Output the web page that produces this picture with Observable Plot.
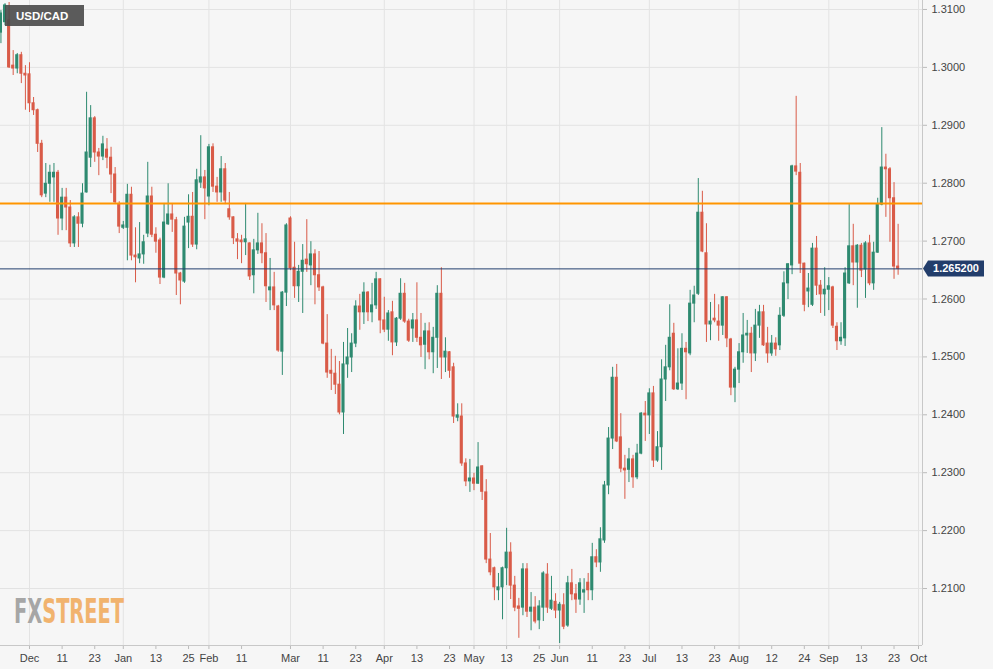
<!DOCTYPE html>
<html><head><meta charset="utf-8">
<script src="https://cdn.jsdelivr.net/npm/d3@7"></script>
<script src="https://cdn.jsdelivr.net/npm/@observablehq/plot@0.6"></script>
<style>
body{margin:0;background:#ffffff;}
#wrap{position:relative;width:993px;height:669px;}
</style></head><body><div id="wrap"></div>
<script>
// ---- data (USD/CAD daily candles, 20 Nov 2020 – 24 Sep 2021) ----
const firstDay = "2020-11-20";
const open = [
1.3060,1.3078,1.3081,1.3003,1.2998,1.3021,1.2989,
1.2988,1.2938,1.2926,1.2868,1.2782,1.2799,1.2810,1.2818,1.2739,1.2775,1.2758,1.2696,1.2741,1.2730,1.2784,1.2844,1.2912,1.2853,1.2846,1.2858,1.2844,1.2815,1.2763,
1.2723,1.2723,1.2780,1.2675,1.2670,1.2677,1.2713,1.2777,1.2711,1.2701,1.2637,1.2729,1.2746,1.2736,1.2644,1.2630,1.2732,1.2742,1.2694,1.2801,1.2810,
1.2777,1.2862,1.2794,1.2784,1.2824,1.2755,1.2741,1.2703,1.2701,1.2698,1.2696,1.2641,1.2684,1.2696,1.2679,1.2615,1.2620,1.2587,1.2509,1.2611,
1.2739,1.2654,1.2622,1.2647,1.2668,1.2658,1.2677,1.2641,1.2620,1.2523,1.2476,1.2471,1.2452,1.2404,1.2487,1.2499,1.2523,1.2587,1.2577,1.2611,1.2577,1.2589,1.2634,
1.2563,1.2547,1.2577,1.2525,1.2566,1.2609,1.2561,1.2549,1.2563,1.2533,1.2521,1.2544,1.2508,1.2533,1.2609,1.2499,1.2508,1.2482,1.2395,1.2397,1.2316,1.2285,
1.2290,1.2281,1.2311,1.2266,1.2150,1.2135,1.2097,1.2102,1.2135,1.2162,1.2105,1.2069,1.2067,1.2133,1.2060,1.2067,1.2045,1.2067,1.2124,1.2065,1.2077,
1.2062,1.2071,1.2036,1.2109,1.2090,1.2081,1.2093,1.2110,1.2097,1.2154,1.2145,1.2183,1.2278,1.2359,1.2464,1.2361,1.2307,1.2305,1.2323,1.2292,1.2333,1.2402,
1.2399,1.2437,1.2321,1.2344,1.2461,1.2482,1.2540,1.2444,1.2454,1.2514,1.2506,1.2592,1.2609,1.2749,1.2679,1.2556,1.2566,1.2561,1.2554,1.2603,1.2530,1.2447,
1.2478,1.2508,1.2537,1.2540,1.2506,1.2554,1.2577,1.2523,1.2506,1.2523,1.2520,1.2571,1.2627,1.2658,1.2829,1.2818,1.2661,1.2613,1.2590,1.2687,1.2623,1.2608,
1.2616,1.2620,1.2552,1.2527,1.2532,1.2627,1.2691,1.2663,1.2692,1.2651,1.2696,1.2627,1.2680,1.2763,1.2827,1.2824,1.2774,1.2656
];
const high = [
1.3098,1.3110,1.3112,1.3029,1.3024,1.3026,1.3003,
1.3008,1.2948,1.2928,1.2874,1.2834,1.2831,1.2834,1.2822,1.2791,1.2791,1.2770,1.2744,1.2749,1.2799,1.2957,1.2934,1.2915,1.2860,1.2881,1.2877,1.2862,1.2827,1.2768,
1.2734,1.2798,1.2793,1.2723,1.2732,1.2710,1.2836,1.2793,1.2723,1.2705,1.2765,1.2799,1.2765,1.2741,1.2646,1.2741,1.2780,1.2784,1.2824,1.2882,1.2822,
1.2867,1.2868,1.2810,1.2846,1.2834,1.2784,1.2742,1.2713,1.2710,1.2765,1.2697,1.2703,1.2748,1.2730,1.2713,1.2670,1.2646,1.2589,1.2613,1.2730,
1.2742,1.2698,1.2658,1.2694,1.2737,1.2699,1.2685,1.2682,1.2622,1.2573,1.2513,1.2501,1.2492,1.2525,1.2549,1.2540,1.2597,1.2608,1.2628,1.2613,1.2627,1.2646,1.2635,
1.2603,1.2580,1.2596,1.2568,1.2635,1.2627,1.2565,1.2575,1.2628,1.2575,1.2558,1.2559,1.2551,1.2623,1.2654,1.2533,1.2509,1.2489,1.2419,1.2419,1.2324,1.2323,
1.2299,1.2352,1.2312,1.2288,1.2195,1.2137,1.2126,1.2137,1.2204,1.2179,1.2121,1.2083,1.2143,1.2143,1.2093,1.2086,1.2079,1.2129,1.2143,1.2121,1.2091,
1.2076,1.2091,1.2121,1.2133,1.2107,1.2117,1.2117,1.2126,1.2178,1.2167,1.2205,1.2285,1.2378,1.2482,1.2487,1.2402,1.2330,1.2342,1.2330,1.2349,1.2404,1.2423,
1.2445,1.2449,1.2371,1.2495,1.2520,1.2590,1.2558,1.2514,1.2540,1.2525,1.2615,1.2622,1.2808,1.2786,1.2730,1.2594,1.2608,1.2590,1.2604,1.2604,1.2532,1.2482,
1.2523,1.2575,1.2563,1.2551,1.2582,1.2589,1.2589,1.2551,1.2537,1.2533,1.2585,1.2647,1.2661,1.2831,1.2950,1.2834,1.2662,1.2644,1.2696,1.2708,1.2632,1.2654,
1.2637,1.2622,1.2559,1.2559,1.2654,1.2763,1.2729,1.2694,1.2696,1.2699,1.2710,1.2698,1.2774,1.2896,1.2850,1.2827,1.2801,1.2729
];
const low = [
1.3041,1.3072,1.2998,1.2986,1.2989,1.2972,1.2926,
1.2922,1.2917,1.2853,1.2775,1.2775,1.2767,1.2767,1.2710,1.2718,1.2718,1.2689,1.2689,1.2689,1.2723,1.2783,1.2827,1.2836,1.2813,1.2839,1.2825,1.2782,1.2765,1.2713,
1.2720,1.2666,1.2666,1.2628,1.2661,1.2660,1.2706,1.2706,1.2679,1.2625,1.2635,1.2727,1.2715,1.2606,1.2590,1.2627,1.2687,1.2689,1.2685,1.2791,1.2737,
1.2761,1.2784,1.2767,1.2767,1.2763,1.2736,1.2694,1.2668,1.2661,1.2675,1.2632,1.2609,1.2677,1.2661,1.2594,1.2580,1.2580,1.2508,1.2468,1.2587,
1.2649,1.2601,1.2594,1.2575,1.2646,1.2623,1.2590,1.2613,1.2521,1.2463,1.2442,1.2435,1.2400,1.2366,1.2463,1.2473,1.2516,1.2546,1.2556,1.2561,1.2559,1.2582,1.2540,
1.2542,1.2527,1.2502,1.2518,1.2563,1.2558,1.2525,1.2525,1.2525,1.2499,1.2478,1.2495,1.2471,1.2480,1.2461,1.2473,1.2463,1.2385,1.2388,1.2311,1.2276,1.2266,
1.2269,1.2280,1.2252,1.2143,1.2122,1.2079,1.2079,1.2046,1.2105,1.2081,1.2060,1.2014,1.2053,1.2050,1.2027,1.2039,1.2029,1.2043,1.2057,1.2062,1.2048,
1.2005,1.2029,1.2033,1.2079,1.2057,1.2071,1.2057,1.2079,1.2079,1.2136,1.2128,1.2178,1.2262,1.2340,1.2352,1.2300,1.2254,1.2283,1.2273,1.2288,1.2331,1.2354,
1.2366,1.2309,1.2318,1.2304,1.2423,1.2476,1.2442,1.2442,1.2442,1.2426,1.2502,1.2559,1.2606,1.2680,1.2525,1.2528,1.2559,1.2527,1.2537,1.2516,1.2433,1.2421,
1.2454,1.2489,1.2506,1.2473,1.2492,1.2532,1.2518,1.2489,1.2501,1.2501,1.2511,1.2568,1.2599,1.2642,1.2813,1.2644,1.2578,1.2585,1.2587,1.2606,1.2575,1.2570,
1.2580,1.2549,1.2511,1.2520,1.2518,1.2625,1.2623,1.2584,1.2637,1.2601,1.2623,1.2615,1.2679,1.2761,1.2741,1.2698,1.2634,1.2641
];
const close = [
1.3093,1.3107,1.3000,1.2998,1.3021,1.2989,1.2986,
1.2938,1.2926,1.2868,1.2779,1.2799,1.2818,1.2818,1.2739,1.2775,1.2758,1.2696,1.2741,1.2730,1.2782,1.2853,1.2912,1.2853,1.2846,1.2867,1.2844,1.2815,1.2767,1.2725,
1.2727,1.2780,1.2675,1.2672,1.2677,1.2698,1.2777,1.2711,1.2699,1.2637,1.2732,1.2746,1.2737,1.2644,1.2632,1.2725,1.2742,1.2694,1.2805,1.2810,1.2791,
1.2862,1.2794,1.2784,1.2824,1.2770,1.2741,1.2705,1.2699,1.2698,1.2703,1.2639,1.2684,1.2696,1.2679,1.2622,1.2620,1.2589,1.2511,1.2611,1.2727,
1.2653,1.2622,1.2647,1.2666,1.2660,1.2677,1.2641,1.2620,1.2523,1.2473,1.2471,1.2452,1.2404,1.2487,1.2499,1.2523,1.2587,1.2577,1.2611,1.2577,1.2589,1.2634,1.2563,
1.2547,1.2575,1.2525,1.2566,1.2609,1.2561,1.2528,1.2563,1.2533,1.2520,1.2544,1.2508,1.2533,1.2609,1.2499,1.2509,1.2476,1.2397,1.2399,1.2316,1.2285,1.2290,
1.2281,1.2309,1.2267,1.2150,1.2128,1.2102,1.2102,1.2135,1.2162,1.2105,1.2067,1.2065,1.2133,1.2060,1.2067,1.2043,1.2069,1.2126,1.2067,1.2079,1.2062,
1.2072,1.2034,1.2109,1.2090,1.2081,1.2109,1.2097,1.2097,1.2154,1.2145,1.2185,1.2278,1.2359,1.2464,1.2354,1.2307,1.2304,1.2323,1.2292,1.2333,1.2402,1.2399,
1.2437,1.2321,1.2344,1.2461,1.2482,1.2533,1.2444,1.2454,1.2514,1.2508,1.2592,1.2606,1.2749,1.2682,1.2556,1.2561,1.2563,1.2554,1.2603,1.2532,1.2447,1.2478,
1.2508,1.2537,1.2540,1.2506,1.2554,1.2577,1.2520,1.2506,1.2523,1.2513,1.2571,1.2627,1.2660,1.2829,1.2820,1.2661,1.2590,1.2618,1.2687,1.2623,1.2608,1.2616,
1.2622,1.2554,1.2527,1.2533,1.2644,1.2691,1.2663,1.2692,1.2649,1.2696,1.2627,1.2680,1.2763,1.2827,1.2824,1.2774,1.2656,1.2652
];
const tickDates  = ["2020-12-01","2020-12-11","2020-12-23","2021-01-01","2021-01-13","2021-01-25","2021-02-01","2021-02-11","2021-03-01","2021-03-11","2021-03-23","2021-04-01","2021-04-13","2021-04-23","2021-05-03","2021-05-13","2021-05-25","2021-06-01","2021-06-11","2021-06-23","2021-07-01","2021-07-13","2021-07-23","2021-08-02","2021-08-12","2021-08-24","2021-09-01","2021-09-13","2021-09-23","2021-10-01"];
const tickLabels = ["Dec","11","23","Jan","13","25","Feb","11","Mar","11","23","Apr","13","23","May","13","25","Jun","11","23","Jul","13","23","Aug","12","24","Sep","13","23","Oct"];
const gridDates  = ["2020-12-01","2021-01-01","2021-02-01","2021-03-01","2021-04-01","2021-05-03","2021-05-13","2021-06-01","2021-07-01","2021-08-02","2021-09-01","2021-10-01"];
const yTicks = [1.21,1.22,1.23,1.24,1.25,1.26,1.27,1.28,1.29,1.30,1.31];
const resistanceLevel = 1.2765;
const lastPrice = 1.2652;
const lastPriceLabel = "1.265200";
const pairName = "USD/CAD";

// ---- calendar helpers (trading-day positions, weekends skipped) ----
const DAY = 86400000;
const BASE = Date.UTC(2020, 11, 1);
function parseD(s){ const [Y,M,D] = s.split("-").map(Number); return Date.UTC(Y, M-1, D); }
function tradingIndex(s){
  const t = parseD(s); let n = 0;
  if (t >= BASE) { for (let u = BASE; u < t; u += DAY) { const w = new Date(u).getUTCDay(); if (w !== 0 && w !== 6) n++; } return n; }
  for (let u = t; u < BASE; u += DAY) { const w = new Date(u).getUTCDay(); if (w !== 0 && w !== 6) n--; } return n;
}
function weekdays(start, count){
  const out = []; let u = parseD(start);
  while (out.length < count) { const w = new Date(u).getUTCDay(); if (w !== 0 && w !== 6) out.push(new Date(u).toISOString().slice(0,10)); u += DAY; }
  return out;
}
const dates = weekdays(firstDay, open.length);
const candles = dates.map((d, i) => ({date: d, x: tradingIndex(d), o: open[i], h: high[i], l: low[i], c: close[i]}));
const up = candles.filter(d => d.c >= d.o);
const down = candles.filter(d => d.c < d.o);
const tickIdx = tickDates.map(tradingIndex);
const labelOf = new Map(tickIdx.map((t, i) => [t, tickLabels[i]]));
const gridIdx = gridDates.map(tradingIndex);

const GREEN = "#2e8a70", RED = "#d95b48";
const bw = 0.38;

const plot = Plot.plot({
  width: 993, height: 669,
  marginLeft: 0, marginRight: 71, marginTop: 0, marginBottom: 24,
  style: {background: "#f6f6f6", fontFamily: "'Liberation Sans', Arial, sans-serif", fontSize: "11px", color: "#444"},
  x: {type: "linear", domain: [-7.11, 218.98]},
  y: {domain: [1.20016, 1.31155]},
  marks: [
    Plot.gridY(yTicks, {stroke: "#e3e3e3", strokeOpacity: 1}),
    Plot.gridX(gridIdx, {stroke: "#e3e3e3", strokeOpacity: 1}),
    Plot.ruleX(up, {x: "x", y1: "l", y2: "h", stroke: GREEN, strokeWidth: 1}),
    Plot.ruleX(down, {x: "x", y1: "l", y2: "h", stroke: RED, strokeWidth: 1}),
    Plot.rect(up, {x1: d => d.x - bw, x2: d => d.x + bw, y1: "o", y2: "c", fill: GREEN, insetTop: -0.5, insetBottom: -0.5}),
    Plot.rect(down, {x1: d => d.x - bw, x2: d => d.x + bw, y1: "c", y2: "o", fill: RED, insetTop: -0.5, insetBottom: -0.5}),
    Plot.ruleY([resistanceLevel], {stroke: "#ff9500", strokeWidth: 2}),
    Plot.ruleY([lastPrice], {stroke: "#233f6e", strokeWidth: 1}),
    Plot.axisX(tickIdx, {tickFormat: d => labelOf.get(d), tickSize: 4, stroke: "#bbb", fill: "#444", label: null, fontSize: 11}),
    Plot.axisY(yTicks, {anchor: "right", tickFormat: d => d.toFixed(4), tickSize: 4, stroke: "#bbb", fill: "#444", label: null, fontSize: 11}),
    Plot.ruleX([218.98], {stroke: "#c8c8c8"}),
    Plot.ruleY([1.20016], {stroke: "#c8c8c8"})
  ]
});
document.getElementById("wrap").appendChild(plot);

// ---- overlays drawn in the chart's own coordinates ----
const svg = d3.select(plot);
const ys = plot.scale("y");
const yLast = ys.apply(lastPrice);
const xRight = plot.scale("x").apply(218.98);
const FONT = "'Liberation Sans', Arial, sans-serif";
const g = svg.append("g");
g.append("path").attr("d", `M${xRight+1},${yLast} L${xRight+6},${yLast-8} L${xRight+62},${yLast-8} L${xRight+62},${yLast+8} L${xRight+6},${yLast+8} Z`).attr("fill", "#223d6b");
g.append("text").attr("x", xRight + 34).attr("y", yLast + 4).attr("text-anchor", "middle").attr("fill", "#fff")
  .attr("font-family", FONT).attr("font-size", 11).attr("font-weight", "bold").text(lastPriceLabel);

const t = svg.append("g").attr("text-anchor", "start");
t.append("rect").attr("x", 5).attr("y", 5).attr("width", 79).attr("height", 21).attr("fill", "#4a4a4a").attr("fill-opacity", 0.9);
t.append("text").attr("x", 16).attr("y", 20).attr("text-anchor", "start").attr("fill", "#fff").attr("font-family", FONT)
  .attr("font-size", 11.5).attr("font-weight", "bold").text(pairName);

const wm = svg.append("text").attr("x", 14).attr("y", 623).attr("text-anchor", "start")
  .attr("font-family", "'Liberation Sans Narrow', 'DejaVu Sans Condensed', sans-serif").attr("font-weight", "bold").attr("font-size", 34)
  .attr("textLength", 110).attr("lengthAdjust", "spacingAndGlyphs");
wm.append("tspan").attr("fill", "#a6a6a6").text("FX");
wm.append("tspan").attr("fill", "#f1b36e").text("STREET");
</script>
</body></html>
